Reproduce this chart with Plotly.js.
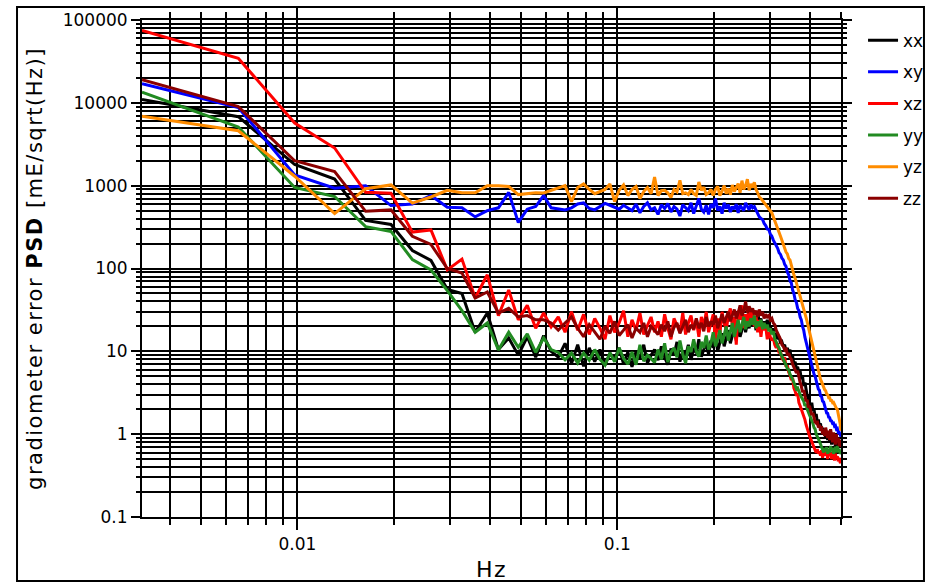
<!DOCTYPE html>
<html><head><meta charset="utf-8">
<script src="https://cdn.plot.ly/plotly-3.0.1.min.js"></script>
<style>
html,body{margin:0;padding:0;background:#fff;}
#chart{width:930px;height:582px;}
.ytitle,.xtitle{letter-spacing:1.5px;}
</style></head><body><div id="chart"></div>
<script>
// Frequency grid of the PSD estimate (Hz): first bin and bin spacing
const FREQ_START = 0.5 / 153;
const FREQ_STEP = 0.5 / 153;

const seriesNames = ['xx', 'xy', 'xz', 'yy', 'yz', 'zz'];

const xx = [11000, 6800, 1800, 1200, 380, 340, 165, 125, 56, 50,
  17, 29, 10.5, 14.5, 9, 15, 8.5, 15.5, 10, 8.5,
  12.5, 7.1, 12, 6.6, 11, 7.5, 10.5, 6.8, 9.5, 8,
  11, 7, 9.8, 6.5, 10, 8.2, 12, 7.2, 9, 10.5,
  7.8, 11.5, 8.5, 6.9, 10.8, 9, 13, 7.5, 10, 8.8,
  12, 7.9, 11, 9.5, 14, 8.6, 10.5, 12.5, 9.2, 13.5,
  11, 15, 10, 13, 16.5, 11.5, 14, 18, 12.5, 16,
  19, 13.5, 21, 15, 18, 24, 17, 22, 19, 26,
  20, 24, 18, 30, 22, 25, 19, 23, 21, 24,
  18, 20, 17, 19, 15, 16.5, 14, 15, 12.5, 13,
  11.5, 12, 10, 11, 9.5, 10.5, 8, 8.8, 7, 7.5,
  6.2, 6.5, 5.5, 5.8, 4.6, 5, 3.8, 4.2, 3.2, 2.9,
  2.7, 2.5, 2.2, 2.4, 1.9, 2, 1.6, 1.75, 1.4, 1.5,
  1.25, 1.35, 1.1, 1.2, 1.0, 1.1, 0.92, 1.05, 0.85, 1.0,
  0.8, 0.95, 0.75, 0.9, 0.78, 0.85, 0.7, 0.95, 0.72, 0.8,
  0.68, 0.85, 0.75];

const xy = [17000, 8800, 1350, 930, 1000, 575, 600, 760, 550, 540,
  420, 500, 540, 830, 360, 520, 560, 760, 540, 520,
  510, 540, 600, 620, 530, 510, 560, 610, 580, 550,
  520, 580, 540, 500, 600, 470, 560, 620, 510, 540,
  450, 590, 530, 610, 480, 560, 520, 430, 590, 540,
  500, 620, 460, 570, 700, 520, 480, 580, 450, 600,
  540, 700, 500, 560, 460, 620, 530, 590, 480, 560,
  520, 600, 470, 580, 540, 500, 620, 560, 510, 590,
  540, 560, 500, 470, 420, 400, 390, 350, 330, 300,
  295, 260, 245, 220, 205, 185, 175, 155, 148, 133,
  127, 112, 106, 90, 84, 71, 67, 55, 50, 42,
  39, 33, 31, 26, 24, 20, 18, 14.8, 13, 10.8,
  9.6, 8.4, 7.6, 6.7, 6.1, 5.3, 5.0, 4.4, 4.1, 3.5,
  3.4, 2.9, 2.85, 2.5, 2.45, 2.15, 2.05, 1.8, 1.78, 1.6,
  1.58, 1.45, 1.44, 1.35, 1.36, 1.25, 1.27, 1.15, 1.17, 1.05,
  1.06, 0.97, 0.93];

const xz = [75000, 34500, 5700, 2850, 830, 810, 275, 292, 96, 130,
  44, 84, 27, 55, 24, 36, 19, 29, 19.7, 26,
  17, 30, 18, 28, 16, 25, 19, 14, 27, 17,
  22, 31, 15, 24, 18, 29, 16, 21, 26, 17,
  23, 15, 28, 19, 14, 25, 21, 17, 29, 16,
  22, 27, 18, 24, 15, 26, 20, 30, 17, 23,
  28, 13, 25, 16, 30, 22, 18, 27, 33, 20,
  26, 12, 31, 24, 36, 19, 28, 22, 33, 25,
  30, 20, 27, 17, 24, 15, 22, 18, 20, 14,
  17, 15, 13.5, 14.5, 12, 11, 12.5, 9.5, 10, 8.2,
  7.8, 8.5, 6.5, 6.8, 5.6, 5.2, 4.5, 4.8, 3.6, 3.3,
  2.9, 3.1, 2.4, 2.2, 2.0, 1.85, 1.6, 1.5, 1.3, 1.15,
  1.0, 0.95, 0.88, 0.8, 0.74, 0.7, 0.64, 0.6, 0.66, 0.58,
  0.62, 0.55, 0.64, 0.52, 0.6, 0.66, 0.55, 0.62, 0.5, 0.64,
  0.56, 0.6, 0.5, 0.55, 0.62, 0.48, 0.58, 0.5, 0.54, 0.47,
  0.52, 0.46, 0.45];

const yy = [13500, 5100, 950, 740, 320, 280, 128, 96, 54, 31,
  17, 22, 10.4, 17, 11.2, 16.3, 9.7, 14.5, 10.5, 9.7,
  7.9, 9.5, 7.2, 9.5, 7.8, 10.5, 8, 6.8, 9.6, 7.5,
  11, 8.2, 7, 9.8, 6.9, 12, 7.6, 9, 8.2, 7.3,
  10.5, 8, 12.5, 7.4, 9.8, 11, 8.5, 13.5, 9.2, 7.2,
  11.5, 9.8, 14, 10, 8.6, 13, 11, 15.5, 10.5, 12.5,
  17, 11.5, 14, 18, 12.5, 16.5, 20, 13.5, 17, 22,
  15, 19, 24, 17, 21, 26, 18.5, 23, 20, 25,
  21, 27, 19, 23, 20, 24, 18.5, 22, 19, 21,
  17.5, 19, 16, 17.5, 14, 13, 11.5, 11, 9.5, 8.8,
  8, 7.5, 6.8, 6.2, 6, 5.3, 5, 4.6, 4.2, 3.9,
  3.5, 3.6, 3.2, 3, 2.8, 2.6, 2.5, 2.2, 2.3, 2,
  1.85, 1.7, 1.6, 1.45, 1.35, 1.2, 1.15, 1.0, 0.95, 0.88,
  0.82, 0.75, 0.72, 0.65, 0.6, 0.68, 0.62, 0.7, 0.58, 0.66,
  0.6, 0.72, 0.62, 0.68, 0.58, 0.64, 0.7, 0.6, 0.72, 0.62,
  0.66, 0.58, 0.6];

const yz = [6900, 4600, 1300, 460, 920, 1020, 615, 730, 880, 820,
  820, 1000, 1000, 980, 780, 800, 820, 815, 880, 950,
  1000, 640, 950, 1050, 900, 800, 850, 900, 1050, 640,
  880, 1020, 760, 900, 980, 700, 850, 950, 800, 1270,
  760, 870, 880, 820, 720, 900, 840, 1160, 800, 820,
  780, 900, 800, 760, 1110, 880, 960, 780, 820, 900,
  760, 900, 980, 760, 860, 1000, 800, 920, 780, 1020,
  850, 940, 1060, 820, 1150, 900, 1000, 1200, 880, 1050,
  950, 1100, 900, 820, 730, 700, 660, 640, 600, 570,
  540, 510, 470, 420, 380, 340, 310, 270, 245, 220,
  195, 178, 158, 150, 132, 127, 108, 98, 84, 76,
  67, 61, 54, 50, 43, 39, 33, 30, 25.5, 22.5,
  19.5, 17.5, 14.6, 13, 11.2, 10, 8.5, 7.4, 6.6, 5.7,
  5.3, 4.6, 4.3, 3.9, 3.75, 3.45, 3.35, 3.05, 3.0, 2.75,
  2.75, 2.55, 2.55, 2.4, 2.42, 2.25, 2.2, 2.05, 2.0, 1.8,
  1.6, 1.35, 1.1];

const zz = [19000, 9000, 2000, 1480, 490, 510, 245, 195, 100, 88,
  44, 52, 29, 33, 26, 27, 24, 24, 22, 18,
  22, 26, 19, 15, 21, 17, 14, 20, 16.5, 23,
  15.5, 18, 21, 14.5, 19, 17, 22, 15, 20, 18,
  16, 21, 17.5, 23, 15, 19.5, 22, 16.5, 20, 24,
  17, 21, 18.5, 25, 19, 22, 17.5, 26, 20, 23,
  21, 27, 19, 24, 28, 22, 26, 30, 23, 27,
  32, 25, 29, 36, 27, 31, 40, 29, 35, 30,
  33, 28, 31, 26, 32, 27, 30, 25, 28, 26,
  27, 24, 25, 22, 21, 18, 16.5, 15, 14, 12,
  11.5, 10.5, 11, 9, 9.5, 8.5, 8, 7, 6.5, 6.2,
  5.5, 5.8, 4.6, 4.2, 3.8, 3.2, 3.4, 2.8, 2.5, 2.6,
  2.1, 2.2, 1.9, 1.7, 1.8, 1.5, 1.4, 1.36, 1.45, 1.2,
  1.3, 1.1, 1.25, 1.0, 1.15, 0.95, 1.2, 1.05, 0.9, 1.1,
  0.85, 1.15, 0.95, 0.8, 1.05, 0.88, 0.75, 1.0, 0.8, 0.9,
  0.72, 0.85, 0.7];

const seriesColors = ['#000000', '#0000FF', '#FF0000', '#228B22', '#FF8C00', '#8B0000'];
const seriesValues = [xx, xy, xz, yy, yz, zz];

// Tick values / labels
const xMajorTicks = [0.01, 0.1];
const xMajorLabels = ['0.01', '0.1'];
const xMinorTicks = [0.004, 0.005, 0.006, 0.007, 0.008, 0.009,
  0.02, 0.03, 0.04, 0.05, 0.06, 0.07, 0.08, 0.09,
  0.2, 0.3, 0.4, 0.5];
const yMajorTicks = [0.1, 1, 10, 100, 1000, 10000, 100000];
const yMajorLabels = ['0.1', '1', '10', '100', '1000', '10000', '100000'];
const yMinorTicks = [0.2, 0.3, 0.4, 0.5, 0.6, 0.7, 0.8, 0.9,
  2, 3, 4, 5, 6, 7, 8, 9,
  20, 30, 40, 50, 60, 70, 80, 90,
  200, 300, 400, 500, 600, 700, 800, 900,
  2000, 3000, 4000, 5000, 6000, 7000, 8000, 9000,
  20000, 30000, 40000, 50000, 60000, 70000, 80000, 90000];

const traces = seriesValues.map((vals, i) => ({
  type: 'scatter', mode: 'lines', name: seriesNames[i],
  x0: FREQ_START, dx: FREQ_STEP, y: vals,
  line: {color: seriesColors[i], width: 3},
  legendgroup: seriesNames[i]
}));

const tickFont = {family: 'DejaVu Sans', size: 17, color: '#000'};

const layout = {
  width: 930, height: 582,
  margin: {l: 142, r: 89, t: 20, b: 65},
  paper_bgcolor: '#fff', plot_bgcolor: '#fff',
  showlegend: true,
  legend: {xref: 'container', yref: 'container',
    x: 0.928, xanchor: 'left', y: 0.961, yanchor: 'top',
    font: {family: 'DejaVu Sans', size: 17, color: '#000'},
    tracegroupgap: 6.5, bgcolor: 'rgba(0,0,0,0)', borderwidth: 0},
  xaxis: {
    type: 'log', range: [Math.log10(FREQ_START), Math.log10(0.5)],
    tickmode: 'array', tickvals: xMajorTicks, ticktext: xMajorLabels,
    ticks: 'outside', ticklen: 11, tickwidth: 2, tickcolor: '#000',
    showgrid: true, gridcolor: '#000', gridwidth: 2,
    showline: true, linecolor: '#000', linewidth: 2, mirror: 'allticks',
    zeroline: false, tickfont: tickFont,
    minor: {tickmode: 'array', tickvals: xMinorTicks, ticks: 'outside', ticklen: 6,
      tickwidth: 2, tickcolor: '#000', showgrid: true, gridcolor: '#000', gridwidth: 2},
    title: {text: 'Hz', font: {family: 'DejaVu Sans', size: 22, color: '#000'}, standoff: 12}
  },
  yaxis: {
    type: 'log', range: [-1, 5],
    tickmode: 'array', tickvals: yMajorTicks, ticktext: yMajorLabels,
    ticks: 'outside', ticklen: 9, tickwidth: 2, tickcolor: '#000',
    showgrid: true, gridcolor: '#000', gridwidth: 2,
    showline: true, linecolor: '#000', linewidth: 2, mirror: 'allticks',
    zeroline: false, tickfont: tickFont,
    minor: {tickmode: 'array', tickvals: yMinorTicks, ticks: 'outside', ticklen: 4,
      tickwidth: 2, tickcolor: '#000', showgrid: true, gridcolor: '#000', gridwidth: 2},
    title: {text: 'gradiometer error <b>PSD</b> [mE/sqrt(Hz)]',
      font: {family: 'DejaVu Sans', size: 21, color: '#000'}, standoff: 14}
  },
  shapes: [{type: 'rect', xref: 'paper', yref: 'paper',
    x0: -0.1788, x1: 1.1187, y0: -0.1288, y1: 1.0262,
    line: {color: '#000', width: 2}, fillcolor: 'rgba(0,0,0,0)', layer: 'above'}]
};

Plotly.newPlot('chart', traces, layout, {displayModeBar: false, staticPlot: true});
</script></body></html>
